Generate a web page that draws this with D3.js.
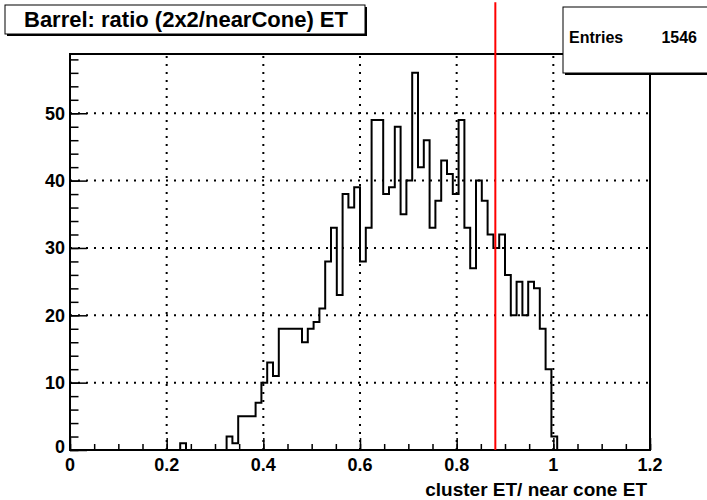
<!DOCTYPE html>
<html>
<head>
<meta charset="utf-8">
<script src="https://cdn.jsdelivr.net/npm/d3@7"></script>
<style>
  html, body { margin: 0; padding: 0; background: #fff; }
  svg text { font-family: "Liberation Sans", Arial, Helvetica, sans-serif; font-weight: bold; fill: #000; }
</style>
</head>
<body>
<svg id="chart" width="707" height="500"></svg>
<script>
// ---- data ----
const titleText = "Barrel: ratio (2x2/nearCone) ET";
const xTitle = "cluster ET/ near cone ET";
const statsLabel = "Entries";
const statsValue = "1546";
const nBins = 100;
const xMin = 0, xMax = 1.2;
const yMax = 58.8;
const counts = [
  0,0,0,0,0,0,0,0,0,0,
  0,0,0,0,0,0,0,0,0,1,
  0,0,0,0,0,0,0,2,1,5,
  5,5,7,10,13,11,18,18,18,18,
  16,18,19,21,28,33,23,38,36,39,
  28,33,49,49,38,39,48,35,40,56,
  42,46,33,37,43,41,38,49,33,27,
  40,37,32,30,32,26,20,25,20,25,
  24,18,12,2,0,0,0,0,0,0,
  0,0,0,0,0,0,0,0,0,0
];
const xTickValues = [0, 0.2, 0.4, 0.6, 0.8, 1, 1.2];
const xTickLabels = ["0", "0.2", "0.4", "0.6", "0.8", "1", "1.2"];
const yTickValues = [0, 10, 20, 30, 40, 50];
const yTickLabels = ["0", "10", "20", "30", "40", "50"];
const cutValue = 0.88;
const cutTop = 66.5;

// ---- layout ----
const L = 70, R = 650, T = 54, B = 450;
const svg = d3.select("#chart");
const x = d3.scaleLinear().domain([xMin, xMax]).range([L, R]);
const y = d3.scaleLinear().domain([0, yMax]).range([B, T]);

// grid
const grid = svg.append("g").attr("stroke", "#000").attr("stroke-width", 2).attr("stroke-dasharray", "2,6");
xTickValues.filter(v => v > xMin && v < xMax).forEach(v => {
  grid.append("line").attr("x1", x(v)).attr("x2", x(v)).attr("y1", B).attr("y2", T);
});
yTickValues.filter(v => v > 0).forEach(v => {
  grid.append("line").attr("x1", L).attr("x2", R).attr("y1", y(v)).attr("y2", y(v));
});

// histogram
const bw = (xMax - xMin) / nBins;
const pts = [[x(xMin), y(0)]];
counts.forEach((c, i) => {
  pts.push([x(xMin + i * bw), y(c)]);
  pts.push([x(xMin + (i + 1) * bw), y(c)]);
});
pts.push([x(xMax), y(0)]);
svg.append("path").attr("d", d3.line()(pts)).attr("fill", "none")
  .attr("stroke", "#000").attr("stroke-width", 2).attr("stroke-linejoin", "miter");

// axes via d3
const xAxis = d3.axisTop(x).tickValues(d3.range(0, 1.2001, 0.05)).tickSize(6).tickFormat("");
svg.append("g").attr("transform", `translate(0,${B})`).call(xAxis)
  .call(g => g.select(".domain").remove())
  .selectAll("line").attr("stroke", "#000").attr("stroke-width", 1.5);
const xAxisMaj = d3.axisTop(x).tickValues(xTickValues).tickSize(12).tickFormat("");
svg.append("g").attr("transform", `translate(0,${B})`).call(xAxisMaj)
  .call(g => g.select(".domain").remove())
  .selectAll("line").attr("stroke", "#000").attr("stroke-width", 1.5);

const yAxis = d3.axisRight(y).tickValues(d3.range(0, 58.1, 2)).tickSize(8.5).tickFormat("");
svg.append("g").attr("transform", `translate(${L},0)`).call(yAxis)
  .call(g => g.select(".domain").remove())
  .selectAll("line").attr("stroke", "#000").attr("stroke-width", 1.5);
const yAxisMaj = d3.axisRight(y).tickValues(yTickValues).tickSize(17).tickFormat("");
svg.append("g").attr("transform", `translate(${L},0)`).call(yAxisMaj)
  .call(g => g.select(".domain").remove())
  .selectAll("line").attr("stroke", "#000").attr("stroke-width", 1.5);

// frame
svg.append("rect").attr("x", L).attr("y", T).attr("width", R - L).attr("height", B - T)
  .attr("fill", "none").attr("stroke", "#000").attr("stroke-width", 2);

// tick labels
xTickValues.forEach((v, i) => {
  svg.append("text").attr("x", x(v)).attr("y", B + 21).attr("text-anchor", "middle")
    .attr("font-size", 18).text(xTickLabels[i]);
});
yTickValues.forEach((v, i) => {
  svg.append("text").attr("x", L - 5).attr("y", y(v) + (v === 0 ? 3 : 6.5)).attr("text-anchor", "end")
    .attr("font-size", 18).text(yTickLabels[i]);
});

// x title
svg.append("text").attr("x", R - 3).attr("y", 496).attr("text-anchor", "end")
  .attr("font-size", 19).text(xTitle);

// red cut line
svg.append("line").attr("x1", x(cutValue)).attr("x2", x(cutValue))
  .attr("y1", y(0)).attr("y2", y(cutTop)).attr("stroke", "#ff0000").attr("stroke-width", 2);

// title box
svg.append("rect").attr("x", 7).attr("y", 7).attr("width", 360).attr("height", 29).attr("fill", "#000");
svg.append("rect").attr("x", 5).attr("y", 5).attr("width", 360).attr("height", 29)
  .attr("fill", "#fff").attr("stroke", "#000").attr("stroke-width", 1);
svg.append("text").attr("x", 186).attr("y", 27).attr("text-anchor", "middle")
  .attr("font-size", 22).text(titleText);

// stats box
svg.append("rect").attr("x", 565).attr("y", 9).attr("width", 150).attr("height", 66).attr("fill", "#000");
svg.append("rect").attr("x", 563).attr("y", 7).attr("width", 150).attr("height", 66)
  .attr("fill", "#fff").attr("stroke", "#000").attr("stroke-width", 1);
svg.append("text").attr("x", 569).attr("y", 43).attr("font-size", 16).text(statsLabel);
svg.append("text").attr("x", 697).attr("y", 43).attr("text-anchor", "end").attr("font-size", 16).text(statsValue);
</script>
</body>
</html>
